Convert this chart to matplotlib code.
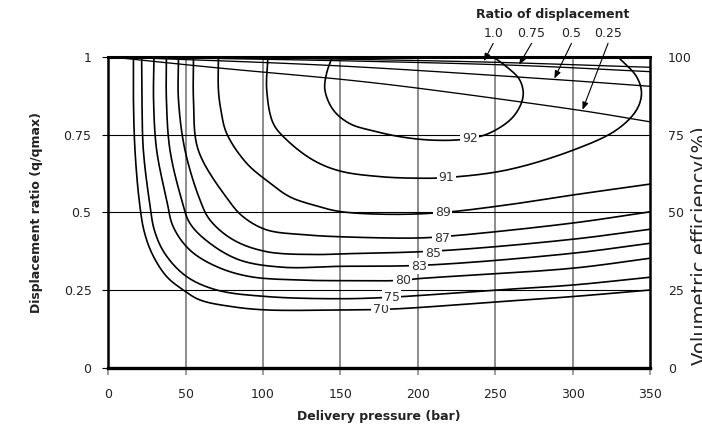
import matplotlib
matplotlib.use("Agg")
import matplotlib.pyplot as plt
import numpy as np

plt.rcParams["font.family"] = "DejaVu Sans"

# ── Data ──────────────────────────────────────────────────────────────────────
pressure_ticks = [0, 50, 100, 150, 200, 250, 300, 350]
ratio_ticks = [0, 0.25, 0.5, 0.75, 1]
ratio_tick_labels = ["0", "0.25", "0.5", "0.75", "1"]
eff_ticks = [0, 25, 50, 75, 100]

# overall efficiency contours (pressure bar, displacement ratio)
c70_p = [16.3, 16.3, 17.3, 20.0, 23.2, 28.6, 37.8, 48.5, 59.3, 80.8, 102.4, 149.7, 183.9, 250.9, 300.1, 350]
c70_r = [1.0, 0.861, 0.700, 0.540, 0.440, 0.365, 0.294, 0.251, 0.219, 0.197, 0.187, 0.187, 0.190, 0.213, 0.230, 0.251]
c75_p = [21.6, 21.8, 22.7, 26.5, 30.0, 37.0, 50.7, 70.1, 102.4, 149.7, 183.1, 250.9, 300.1, 350]
c75_r = [1.0, 0.861, 0.700, 0.540, 0.440, 0.365, 0.294, 0.251, 0.230, 0.223, 0.228, 0.251, 0.267, 0.292]
c80_p = [29.6, 29.3, 31.3, 37.8, 42.0, 52.8, 70.1, 91.6, 123.9, 149.7, 190.4, 199.2, 300.1, 350]
c80_r = [1.0, 0.861, 0.700, 0.540, 0.454, 0.379, 0.326, 0.294, 0.283, 0.281, 0.282, 0.287, 0.321, 0.353]
c83_p = [37.6, 37.6, 39.9, 47.5, 52.8, 65.7, 85.1, 113.1, 149.7, 205.7, 300.1, 350]
c83_r = [1.0, 0.861, 0.700, 0.540, 0.465, 0.401, 0.347, 0.324, 0.327, 0.331, 0.369, 0.401]
c85_p = [45.4, 45.4, 49.6, 59.3, 65.7, 80.8, 102.4, 134.6, 149.7, 214.3, 300.1, 350]
c85_r = [1.0, 0.861, 0.700, 0.540, 0.476, 0.412, 0.374, 0.365, 0.367, 0.377, 0.414, 0.446]
c87_p = [55.1, 55.1, 58.2, 77.6, 87.2, 102.4, 128.2, 149.7, 200.0, 222.7, 300.1, 350]
c87_r = [1.0, 0.861, 0.700, 0.540, 0.486, 0.444, 0.428, 0.422, 0.418, 0.425, 0.466, 0.502]
c89_p = [71.2, 71.2, 72.8, 76.5, 89.4, 104.4, 117.4, 134.6, 149.7, 182.0, 216.2, 257.3, 300.1, 350]
c89_r = [1.0, 0.893, 0.829, 0.754, 0.658, 0.595, 0.550, 0.521, 0.503, 0.494, 0.500, 0.524, 0.556, 0.591]
c91_p = [103.2, 102.4, 106.6, 115.3, 132.4, 149.7, 175.5, 199.2, 218.6, 257.3, 300.3, 328.4, 341.3, 344.5, 341.3, 329.2]
c91_r = [1.0, 0.893, 0.786, 0.733, 0.668, 0.633, 0.615, 0.610, 0.612, 0.636, 0.700, 0.765, 0.829, 0.883, 0.936, 1.0]
c92_p = [144.8, 141.1, 140.0, 145.4, 156.1, 171.0, 190.0, 210.0, 230.0, 246.0, 261.6, 268.0, 265.9, 257.3, 248.5]
c92_r = [1.0, 0.947, 0.893, 0.829, 0.785, 0.762, 0.742, 0.732, 0.735, 0.754, 0.807, 0.872, 0.925, 0.968, 1.0]

contour_levels = [70, 75, 80, 83, 85, 87, 89, 91, 92]
contour_p = [c70_p, c75_p, c80_p, c83_p, c85_p, c87_p, c89_p, c91_p, c92_p]
contour_r = [c70_r, c75_r, c80_r, c83_r, c85_r, c87_r, c89_r, c91_r, c92_r]
label_p = [176.0, 183.1, 190.4, 200.7, 209.7, 215.4, 216.2, 218.6, 233.6]
label_r = [0.187, 0.228, 0.282, 0.327, 0.369, 0.417, 0.500, 0.612, 0.738]

# volumetric efficiency (right axis, shown as fraction of 100 %)
ve_names = ["1.0", "0.75", "0.5", "0.25"]
ve10_p = [0, 150, 250, 350]
ve10_r = [1.0, 0.992, 0.982, 0.966]
ve075_p = [0, 150, 265, 350]
ve075_r = [1.0, 0.987, 0.972, 0.952]
ve05_p = [0, 147, 288, 350]
ve05_r = [1.0, 0.971, 0.927, 0.905]
ve025_p = [0, 71, 155, 200, 307, 350]
ve025_r = [1.0, 0.964, 0.925, 0.899, 0.826, 0.791]
ve_p = [ve10_p, ve075_p, ve05_p, ve025_p]
ve_r = [ve10_r, ve075_r, ve05_r, ve025_r]
arrow_tip_p = [242.7, 265.5, 288.2, 306.4]
arrow_text_p = [248.7, 273.5, 299.3, 322.9]

TXT = "#222222"


def smooth(ax, xs, ys, n=14):
    """Excel-style smoothed line: centripetal Catmull-Rom through the points,
    evaluated in display space so both axes weigh alike."""
    pts = ax.transData.transform(np.column_stack([xs, ys]))
    pts = np.vstack([2 * pts[0] - pts[1], pts, 2 * pts[-1] - pts[-2]])
    out = [pts[1]]
    for i in range(1, len(pts) - 2):
        p0, p1, p2, p3 = pts[i - 1], pts[i], pts[i + 1], pts[i + 2]
        t0 = 0.0
        t1 = t0 + max(np.linalg.norm(p1 - p0), 1e-6) ** 0.5
        t2 = t1 + max(np.linalg.norm(p2 - p1), 1e-6) ** 0.5
        t3 = t2 + max(np.linalg.norm(p3 - p2), 1e-6) ** 0.5
        for t in np.linspace(t1, t2, n)[1:]:
            a1 = (t1 - t) / (t1 - t0) * p0 + (t - t0) / (t1 - t0) * p1
            a2 = (t2 - t) / (t2 - t1) * p1 + (t - t1) / (t2 - t1) * p2
            a3 = (t3 - t) / (t3 - t2) * p2 + (t - t2) / (t3 - t2) * p3
            b1 = (t2 - t) / (t2 - t0) * a1 + (t - t0) / (t2 - t0) * a2
            b2 = (t3 - t) / (t3 - t1) * a2 + (t - t1) / (t3 - t1) * a3
            out.append((t2 - t) / (t2 - t1) * b1 + (t - t1) / (t2 - t1) * b2)
    d = ax.transData.inverted().transform(np.array(out))
    return d[:, 0], d[:, 1]


# ── Figure ────────────────────────────────────────────────────────────────────
fig = plt.figure(figsize=(7.02, 4.34), dpi=100, facecolor="white")
ax = fig.add_axes([108.2 / 702, 65.8 / 434, 541.8 / 702, 311.5 / 434])
ax.set_xlim(0, 350)
ax.set_ylim(0, 1)

# grid: grey verticals, thin black horizontals
for p in pressure_ticks[1:-1]:
    ax.axvline(p, color="#8c8c8c", lw=1.4, zorder=1)
for r in ratio_ticks[1:-1]:
    ax.axhline(r, color="black", lw=0.8, zorder=1)

for lvl, ps, rs in zip(contour_levels, contour_p, contour_r):
    sx, sy = smooth(ax, ps, rs)
    ax.plot(sx, sy, color="black", lw=1.2, zorder=3, solid_capstyle="butt")
for lvl, lp, lr in zip(contour_levels, label_p, label_r):
    ax.text(lp, lr, str(lvl), ha="center", va="center", fontsize=9, color="#333333",
            zorder=4, bbox=dict(boxstyle="square,pad=0.12", fc="white", ec="none"))

for ps, rs in zip(ve_p, ve_r):
    sx, sy = smooth(ax, ps, rs)
    ax.plot(sx, sy, color="black", lw=0.95, zorder=3)

# ratio-of-displacement call-outs
ax.text(287.4, 1.134, "Ratio of displacement", ha="center", va="center",
        fontsize=9, fontweight="bold", color=TXT, clip_on=False)
for name, tp, xp, ps, rs in zip(ve_names, arrow_tip_p, arrow_text_p, ve_p, ve_r):
    ax.text(xp, 1.076, name, ha="center", va="center", fontsize=9, color=TXT, clip_on=False)
    tip_r = np.interp(tp, ps, rs) + 0.003
    ax.annotate("", xy=(tp, tip_r), xytext=(xp, 1.043), annotation_clip=False,
                arrowprops=dict(arrowstyle="-|>,head_length=0.45,head_width=0.18",
                                color="black", lw=0.8, shrinkA=0, shrinkB=0), zorder=5)

# axes styling
ax.set_xticks(pressure_ticks)
ax.set_yticks(ratio_ticks)
ax.set_yticklabels(ratio_tick_labels)
ax.tick_params(axis="x", length=5, width=1.2, color="#8c8c8c", pad=9,
               labelsize=9, labelcolor=TXT)
ax.tick_params(axis="y", length=4, width=0.8, color="black", pad=8,
               labelsize=9, labelcolor=TXT)
ax.spines["top"].set_linewidth(2.2)
ax.spines["bottom"].set_linewidth(2.4)
ax.spines["left"].set_linewidth(1.8)
ax.spines["right"].set_linewidth(1.8)
for s in ax.spines.values():
    s.set_zorder(6)

ax.set_xlabel("Delivery pressure (bar)", fontsize=9, fontweight="bold", color=TXT, labelpad=7)
ax.set_ylabel("Displacement ratio (q/qmax)", fontsize=9, fontweight="bold", color=TXT, labelpad=15)

ax2 = ax.twinx()
ax2.set_ylim(0, 100)
ax2.set_yticks(eff_ticks)
ax2.tick_params(axis="y", length=0, pad=13, labelsize=9, labelcolor=TXT)
for s in ax2.spines.values():
    s.set_visible(False)

# the reference crops this label at the right edge of the image
fig.text(691 / 702, 1 - 246 / 434, "Volumetric efficiency(%)", rotation=90,
         ha="left", va="center", fontsize=14, color=TXT)

fig.savefig("out.png", dpi=100, facecolor="white")
